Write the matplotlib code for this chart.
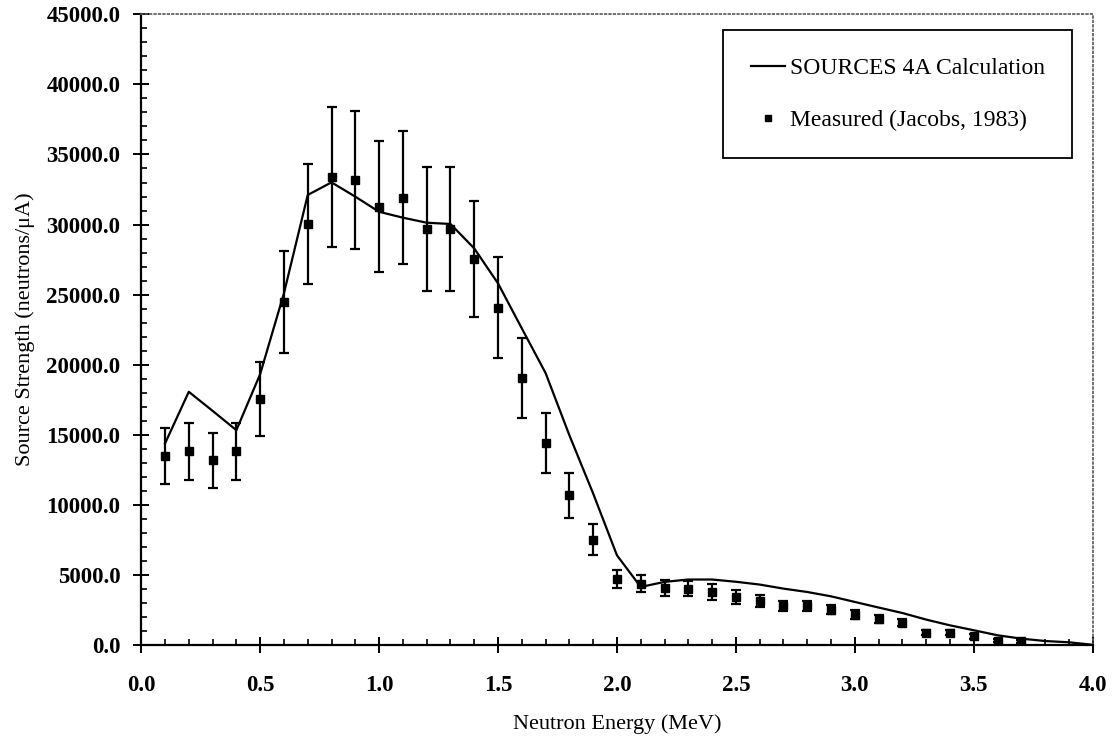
import numpy as np
import matplotlib
matplotlib.use('Agg')
import matplotlib.pyplot as plt
from matplotlib.lines import Line2D
from matplotlib.ticker import MultipleLocator, FormatStrFormatter

# SOURCES 4A calculation (line)
calc_energy = [0.1, 0.2, 0.3, 0.4, 0.5, 0.6, 0.7, 0.8, 0.9, 1.0,
               1.1, 1.2, 1.3, 1.4, 1.5, 1.6, 1.7, 1.8, 1.9, 2.0,
               2.1, 2.2, 2.3, 2.4, 2.5, 2.6, 2.7, 2.8, 2.9, 3.0,
               3.1, 3.2, 3.3, 3.4, 3.5, 3.6, 3.7, 3.8, 3.9, 4.0]
calc_strength = [14370, 18060, 16700, 15320, 19320, 25090, 32110, 33010, 31990, 30910,
                 30490, 30130, 30040, 28300, 25800, 22590, 19400, 14960, 10800, 6390,
                 4130, 4490, 4660, 4660, 4500, 4300, 4010, 3770, 3460, 3060,
                 2660, 2270, 1800, 1390, 1040, 680, 440, 270, 180, 0]

# measured (Jacobs, 1983)
meas_energy = [0.1, 0.2, 0.3, 0.4, 0.5, 0.6, 0.7, 0.8, 0.9, 1.0,
               1.1, 1.2, 1.3, 1.4, 1.5, 1.6, 1.7, 1.8, 1.9, 2.0,
               2.1, 2.2, 2.3, 2.4, 2.5, 2.6, 2.7, 2.8, 2.9, 3.0,
               3.1, 3.2, 3.3, 3.4, 3.5, 3.6, 3.7]
meas_strength = [13460, 13820, 13180, 13820, 17540, 24440, 30040, 33410, 33180, 31270,
                 31910, 29680, 29680, 27540, 24060, 19060, 14410, 10680, 7510, 4680,
                 4370, 4060, 4010, 3770, 3410, 3130, 2770, 2750, 2510, 2160,
                 1840, 1560, 870, 870, 610, 290, 250]
meas_err = [2010, 2040, 1970, 2040, 2620, 3640, 4290, 4990, 4940, 4680,
            4760, 4450, 4450, 4140, 3610, 2860, 2140, 1600, 1110, 650,
            630, 570, 510, 540, 500, 440, 380, 350, 330, 300,
            280, 250, 200, 200, 170, 120, 100]

plt.rcParams['font.family'] = ['Liberation Serif', 'DejaVu Serif']

fig = plt.figure(figsize=(11.12, 7.42), dpi=100)
ax = fig.add_axes([0.127, 0.131, 0.8556, 0.8496])

calc_line, = ax.plot(calc_energy, calc_strength, color='black', lw=1.6)
ax.errorbar(meas_energy, meas_strength, yerr=meas_err, fmt='s', color='black',
            markersize=6, capsize=3.5, elinewidth=1.6, capthick=1.6)

ax.set_xlim(0, 4.0)
ax.set_ylim(0, 45000)
ax.xaxis.set_major_locator(MultipleLocator(0.5))
ax.xaxis.set_minor_locator(MultipleLocator(0.1))
ax.yaxis.set_major_locator(MultipleLocator(5000))
ax.yaxis.set_minor_locator(MultipleLocator(1000))
ax.xaxis.set_major_formatter(FormatStrFormatter('%.1f'))
ax.yaxis.set_major_formatter(FormatStrFormatter('%.1f'))

ax.tick_params(which='major', direction='inout', length=12, width=1.4,
               labelsize=16.5)
ax.tick_params(axis='x', which='major', pad=16)
ax.tick_params(axis='y', which='major', pad=9)
ax.tick_params(which='minor', direction='in', length=4, width=1.2)
for lab in ax.get_xticklabels() + ax.get_yticklabels():
    lab.set_fontweight('bold')

ax.spines['left'].set_linewidth(1.6)
ax.spines['bottom'].set_linewidth(1.6)
for side in ['top', 'right']:
    ax.spines[side].set_linestyle(':')
    ax.spines[side].set_color('0.35')
    ax.spines[side].set_linewidth(1.2)

ax.set_xlabel('Neutron Energy (MeV)', fontsize=16, labelpad=13)
ax.set_ylabel('Source Strength (neutrons/\u03bcA)', fontsize=16, labelpad=8)

meas_handle = Line2D([], [], marker='s', linestyle='none', color='black', markersize=5)
leg = ax.legend([calc_line, meas_handle],
                ['SOURCES 4A Calculation', 'Measured (Jacobs, 1983)'],
                loc='upper right', bbox_to_anchor=(0.978, 0.975), fontsize=17,
                frameon=True, fancybox=False, edgecolor='black', framealpha=1,
                borderpad=1.15, labelspacing=1.3, handlelength=1.45,
                handletextpad=0.2, borderaxespad=0)
leg.get_frame().set_linewidth(1.3)

fig.savefig('out.png', dpi=100)
